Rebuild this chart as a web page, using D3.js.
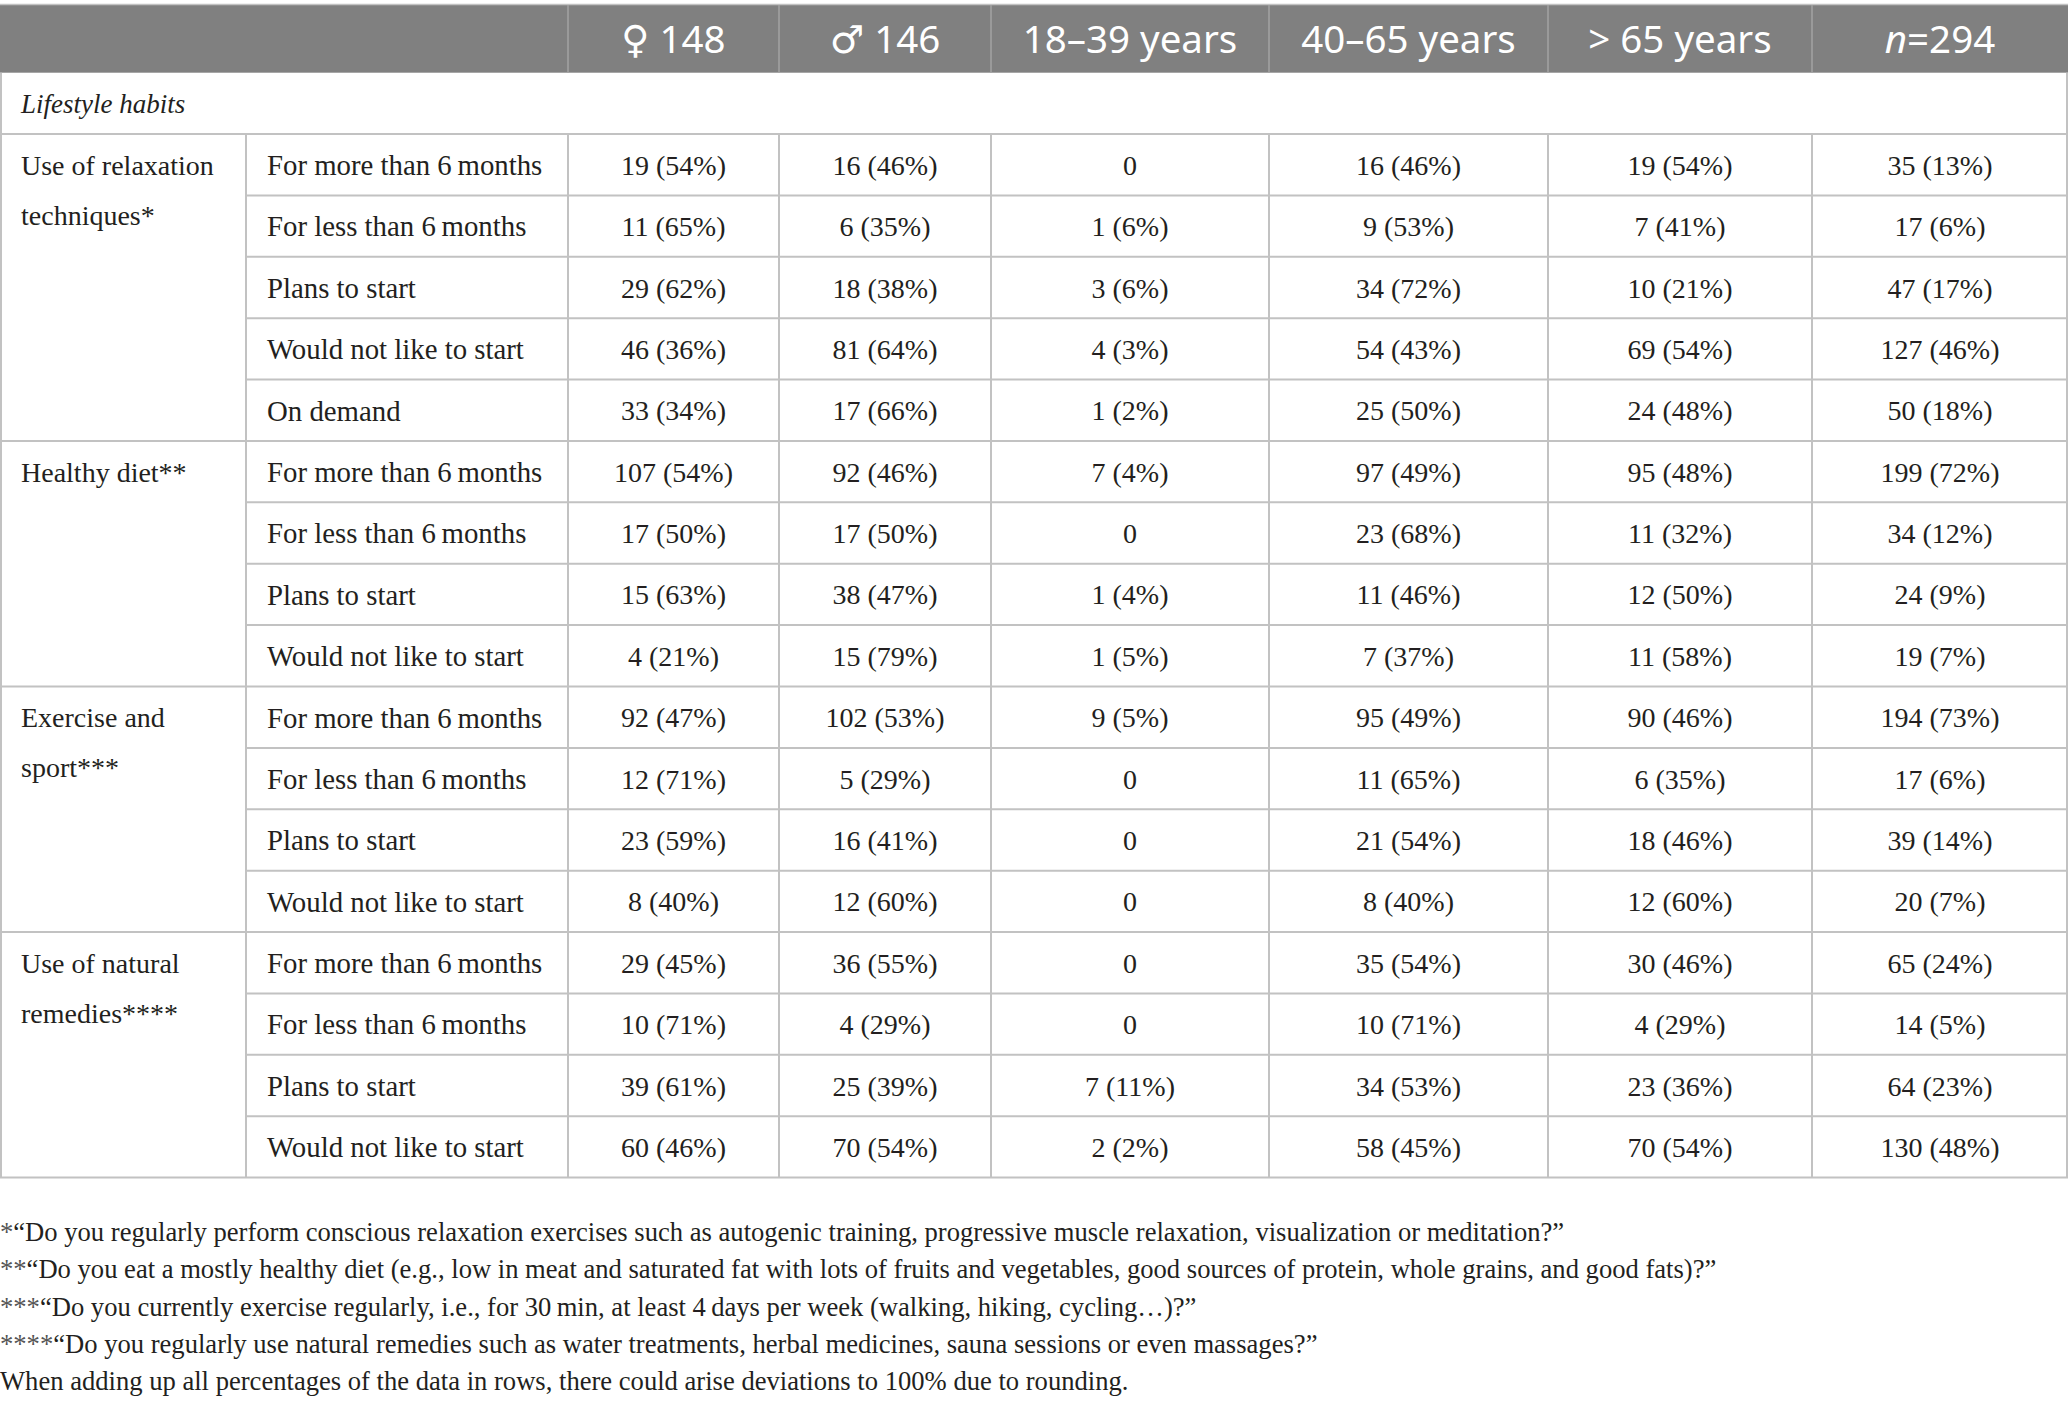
<!DOCTYPE html>
<html>
<head>
<meta charset="utf-8">
<script src="https://cdn.jsdelivr.net/npm/d3@7"></script>
<style>
  html, body { margin: 0; padding: 0; background: #fff; }
  svg { display: block; }
</style>
</head>
<body>
<svg id="chart" width="2070" height="1405"></svg>
<script>
// ---------- DATA ----------
const columnLabels = ["♀ 148", "♂ 146", "18–39 years", "40–65 years", "> 65 years", "n=294"];
const sectionLabel = "Lifestyle habits";
const groupLabels = [
  ["Use of relaxation", "techniques*"],
  ["Healthy diet**"],
  ["Exercise and", "sport***"],
  ["Use of natural", "remedies****"]
];
const groupSizes = [5, 4, 4, 4];
const subLabels = [
  "For more than 6\u2009months", "For less than 6\u2009months", "Plans to start", "Would not like to start", "On demand",
  "For more than 6\u2009months", "For less than 6\u2009months", "Plans to start", "Would not like to start",
  "For more than 6\u2009months", "For less than 6\u2009months", "Plans to start", "Would not like to start",
  "For more than 6\u2009months", "For less than 6\u2009months", "Plans to start", "Would not like to start"
];
const femaleVals = ["19 (54%)", "11 (65%)", "29 (62%)", "46 (36%)", "33 (34%)", "107 (54%)", "17 (50%)", "15 (63%)", "4 (21%)", "92 (47%)", "12 (71%)", "23 (59%)", "8 (40%)", "29 (45%)", "10 (71%)", "39 (61%)", "60 (46%)"];
const maleVals = ["16 (46%)", "6 (35%)", "18 (38%)", "81 (64%)", "17 (66%)", "92 (46%)", "17 (50%)", "38 (47%)", "15 (79%)", "102 (53%)", "5 (29%)", "16 (41%)", "12 (60%)", "36 (55%)", "4 (29%)", "25 (39%)", "70 (54%)"];
const age18to39 = ["0", "1 (6%)", "3 (6%)", "4 (3%)", "1 (2%)", "7 (4%)", "0", "1 (4%)", "1 (5%)", "9 (5%)", "0", "0", "0", "0", "0", "7 (11%)", "2 (2%)"];
const age40to65 = ["16 (46%)", "9 (53%)", "34 (72%)", "54 (43%)", "25 (50%)", "97 (49%)", "23 (68%)", "11 (46%)", "7 (37%)", "95 (49%)", "11 (65%)", "21 (54%)", "8 (40%)", "35 (54%)", "10 (71%)", "34 (53%)", "58 (45%)"];
const ageOver65 = ["19 (54%)", "7 (41%)", "10 (21%)", "69 (54%)", "24 (48%)", "95 (48%)", "11 (32%)", "12 (50%)", "11 (58%)", "90 (46%)", "6 (35%)", "18 (46%)", "12 (60%)", "30 (46%)", "4 (29%)", "23 (36%)", "70 (54%)"];
const totalVals = ["35 (13%)", "17 (6%)", "47 (17%)", "127 (46%)", "50 (18%)", "199 (72%)", "34 (12%)", "24 (9%)", "19 (7%)", "194 (73%)", "17 (6%)", "39 (14%)", "20 (7%)", "65 (24%)", "14 (5%)", "64 (23%)", "130 (48%)"];
const footnotes = [
  ["*", "“Do you regularly perform conscious relaxation exercises such as autogenic training, progressive muscle relaxation, visualization or meditation?”"],
  ["**", "“Do you eat a mostly healthy diet (e.g., low in meat and saturated fat with lots of fruits and vegetables, good sources of protein, whole grains, and good fats)?”"],
  ["***", "“Do you currently exercise regularly, i.e., for 30\u2009min, at least 4\u2009days per week (walking, hiking, cycling…)?”"],
  ["****", "“Do you regularly use natural remedies such as water treatments, herbal medicines, sauna sessions or even massages?”"],
  ["", "When adding up all percentages of the data in rows, there could arise deviations to 100% due to rounding."]
];

// ---------- LAYOUT ----------
const W = 2070;
const colWidths = [246, 322, 211, 212, 278, 279, 264, 256]; // group, sub, 6 value columns
const colEdges = [0, ...d3.cumsum(colWidths)];
const tableRight = colEdges[colEdges.length - 1];
const headerTop = 5, headerBottom = 72.7, sectionBottom = 134, tableBottom = 1177.6;
const lineColor = "#c2c2c2";
const textColor = "#231f20";
const serif = "'Liberation Serif', 'Times New Roman', serif";
const sans = "'Noto Sans', 'Open Sans', 'DejaVu Sans', sans-serif";

const svg = d3.select("#chart");
svg.append("rect").attr("width", W).attr("height", 1405).attr("fill", "#fff");

const nRows = subLabels.length;
const y = d3.scaleBand().domain(d3.range(nRows)).range([sectionBottom, tableBottom]).padding(0);
const valueCols = d3.range(6);
const xCenter = d3.scaleOrdinal().domain(valueCols).range(valueCols.map(i => (colEdges[i + 2] + colEdges[i + 3]) / 2));
const valueColumns = [femaleVals, maleVals, age18to39, age40to65, ageOver65, totalVals];

// ---------- HEADER ----------
svg.append("rect")
  .attr("x", 0).attr("y", headerTop)
  .attr("width", tableRight).attr("height", headerBottom - headerTop)
  .attr("fill", "#808080");
svg.append("line").attr("x1", 0).attr("x2", tableRight).attr("y1", headerTop - 0.5).attr("y2", headerTop - 0.5)
  .attr("stroke", lineColor).attr("stroke-width", 1.5);
svg.selectAll("line.hdiv").data(d3.range(2, 8)).join("line")
  .attr("class", "hdiv")
  .attr("x1", d => colEdges[d]).attr("x2", d => colEdges[d])
  .attr("y1", headerTop).attr("y2", headerBottom)
  .attr("stroke", "#a3a3a3").attr("stroke-width", 1.5);

const hdr = svg.selectAll("text.hdr").data(columnLabels).join("text")
  .attr("class", "hdr")
  .attr("x", (d, i) => xCenter(i))
  .attr("y", (headerTop + headerBottom) / 2)
  .attr("dy", "0.36em")
  .attr("text-anchor", "middle")
  .attr("fill", "#fff")
  .attr("font-family", sans)
  .attr("font-size", 38.5);
hdr.each(function (d) {
  const t = d3.select(this);
  if (d.startsWith("n=")) {
    t.append("tspan").attr("font-style", "italic").text("n");
    t.append("tspan").text(d.slice(1));
  } else {
    t.text(d);
  }
});

// ---------- SECTION ROW ----------
svg.append("text")
  .attr("x", 21).attr("y", (headerBottom + sectionBottom) / 2)
  .attr("dy", "0.36em")
  .attr("font-family", serif).attr("font-style", "italic")
  .attr("font-size", 27).attr("fill", textColor)
  .text(sectionLabel);

// ---------- GRID LINES ----------
const grid = svg.append("g").attr("stroke", lineColor).attr("stroke-width", 2).attr("fill", "none");
grid.append("line").attr("x1", 1).attr("x2", 1).attr("y1", headerBottom).attr("y2", tableBottom);
grid.append("line").attr("x1", tableRight - 1).attr("x2", tableRight - 1).attr("y1", headerBottom).attr("y2", tableBottom);
grid.selectAll("line.v").data(d3.range(1, 8)).join("line")
  .attr("class", "v")
  .attr("x1", d => colEdges[d]).attr("x2", d => colEdges[d])
  .attr("y1", sectionBottom).attr("y2", tableBottom);
const groupStarts = [0, ...d3.cumsum(groupSizes)];
const groupStartSet = new Set(groupStarts);
grid.selectAll("line.h").data(d3.range(nRows + 1)).join("line")
  .attr("class", "h")
  .attr("x1", d => groupStartSet.has(d) ? 0 : colEdges[1])
  .attr("x2", tableRight)
  .attr("y1", d => d < nRows ? y(d) : tableBottom)
  .attr("y2", d => d < nRows ? y(d) : tableBottom);

// ---------- GROUP LABELS ----------
svg.selectAll("text.grp").data(groupLabels).join("text")
  .attr("class", "grp")
  .attr("font-family", serif).attr("font-size", 28).attr("fill", textColor)
  .each(function (lines, gi) {
    const t = d3.select(this);
    const r0 = groupStarts[gi];
    lines.forEach((ln, li) => {
      t.append("tspan")
        .attr("x", 21)
        .attr("y", y(r0) + y.bandwidth() / 2 + li * 50)
        .attr("dy", "0.36em")
        .text(ln);
    });
  });

// ---------- SUB LABELS ----------
svg.selectAll("text.sub").data(subLabels).join("text")
  .attr("class", "sub")
  .attr("x", colEdges[1] + 21)
  .attr("y", (d, i) => y(i) + y.bandwidth() / 2)
  .attr("dy", "0.36em")
  .attr("font-family", serif).attr("font-size", 28.8).attr("fill", textColor)
  .text(d => d);

// ---------- VALUES ----------
valueColumns.forEach((vals, ci) => {
  svg.selectAll("text.val" + ci).data(vals).join("text")
    .attr("class", "val" + ci)
    .attr("x", xCenter(ci))
    .attr("y", (d, i) => y(i) + y.bandwidth() / 2)
    .attr("dy", "0.36em")
    .attr("text-anchor", "middle")
    .attr("font-family", serif).attr("font-size", 28).attr("fill", textColor)
    .text(d => d);
});

// ---------- FOOTNOTES ----------
const fnY = d3.scaleLinear().domain([0, 4]).range([1241, 1390]);
svg.selectAll("text.fn").data(footnotes).join("text")
  .attr("class", "fn")
  .attr("x", 0)
  .attr("y", (d, i) => fnY(i))
  .attr("font-family", serif).attr("font-size", 26.6).attr("fill", textColor)
  .each(function (d) {
    const t = d3.select(this);
    if (d[0]) t.append("tspan").attr("fill", "#555").text(d[0]);
    t.append("tspan").text(d[1]);
  });
</script>
</body>
</html>
